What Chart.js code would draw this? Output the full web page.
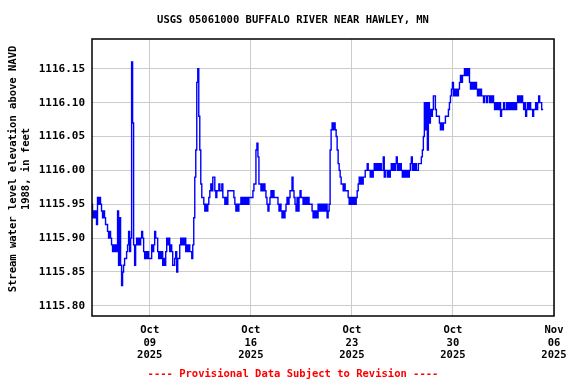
<!DOCTYPE html>
<html>
<head>
<meta charset="utf-8">
<script src="https://cdn.jsdelivr.net/npm/chart.js@4/dist/chart.umd.min.js"></script>
<style>
html,body{margin:0;padding:0;background:#fff;}
</style>
</head>
<body>
<canvas id="gageChart" width="576" height="384"></canvas>
<script>

const stationTitle =
"USGS 05061000 BUFFALO RIVER NEAR HAWLEY, MN";

const yAxisTitle = [
"Stream water level elevation above NAVD",
"1988, in feet"
];

const footerText =
"---- Provisional Data Subject to Revision ----";

// readings every 100 minutes, starting Oct 5 2025 00:00 (x = day of October)
const startDay = 5;
const stepMinutes = 100;

const stage = [
1115.95,1115.93,1115.94,1115.93,1115.94,1115.92,1115.96,1115.95,1115.96,1115.95,
1115.94,1115.93,1115.94,1115.93,1115.92,1115.92,1115.91,1115.90,1115.91,1115.90,
1115.89,1115.88,1115.89,1115.88,1115.89,1115.88,1115.94,1115.86,1115.93,1115.86,
1115.83,1115.85,1115.86,1115.87,1115.87,1115.88,1115.89,1115.91,1115.88,1115.90,
1116.16,1116.07,1115.89,1115.86,1115.89,1115.90,1115.89,1115.90,1115.89,1115.90,
1115.91,1115.90,1115.88,1115.87,1115.88,1115.87,1115.88,1115.87,1115.87,1115.87,
1115.89,1115.88,1115.89,1115.91,1115.90,1115.90,1115.88,1115.87,1115.88,1115.87,
1115.88,1115.86,1115.87,1115.86,1115.88,1115.90,1115.89,1115.90,1115.88,1115.89,
1115.88,1115.86,1115.86,1115.87,1115.88,1115.85,1115.87,1115.87,1115.89,1115.90,
1115.89,1115.90,1115.89,1115.90,1115.88,1115.89,1115.88,1115.89,1115.88,1115.88,
1115.87,1115.89,1115.93,1115.99,1116.03,1116.13,1116.15,1116.08,1116.03,1115.98,
1115.96,1115.96,1115.95,1115.94,1115.95,1115.94,1115.95,1115.96,1115.97,1115.98,
1115.97,1115.99,1115.99,1115.97,1115.96,1115.97,1115.97,1115.98,1115.97,1115.97,
1115.98,1115.96,1115.96,1115.95,1115.96,1115.95,1115.97,1115.97,1115.97,1115.97,
1115.97,1115.97,1115.96,1115.95,1115.94,1115.95,1115.94,1115.95,1115.95,1115.96,
1115.95,1115.96,1115.95,1115.96,1115.95,1115.96,1115.95,1115.96,1115.96,1115.96,
1115.96,1115.97,1115.98,1115.98,1116.03,1116.04,1116.02,1115.98,1115.98,1115.97,
1115.98,1115.97,1115.98,1115.97,1115.96,1115.95,1115.94,1115.95,1115.96,1115.97,
1115.96,1115.97,1115.96,1115.96,1115.96,1115.96,1115.95,1115.94,1115.95,1115.94,
1115.93,1115.94,1115.93,1115.94,1115.95,1115.96,1115.95,1115.96,1115.97,1115.97,
1115.99,1115.97,1115.96,1115.95,1115.94,1115.96,1115.94,1115.96,1115.97,1115.96,
1115.96,1115.95,1115.96,1115.95,1115.96,1115.95,1115.96,1115.95,1115.95,1115.95,
1115.94,1115.93,1115.94,1115.93,1115.94,1115.93,1115.95,1115.94,1115.95,1115.94,
1115.95,1115.94,1115.95,1115.94,1115.95,1115.93,1115.94,1115.95,1116.03,1116.06,
1116.07,1116.06,1116.07,1116.06,1116.05,1116.03,1116.01,1116.00,1115.99,1115.98,
1115.98,1115.97,1115.98,1115.97,1115.97,1115.97,1115.96,1115.95,1115.96,1115.95,
1115.96,1115.95,1115.96,1115.95,1115.96,1115.97,1115.98,1115.99,1115.98,1115.99,
1115.98,1115.99,1115.99,1116.00,1116.00,1116.01,1116.00,1116.00,1115.99,1116.00,
1115.99,1116.00,1116.01,1116.00,1116.01,1116.00,1116.01,1116.00,1116.01,1116.00,
1116.00,1116.02,1115.99,1116.00,1116.00,1115.99,1116.00,1115.99,1116.00,1116.01,
1116.00,1116.01,1116.00,1116.01,1116.02,1116.00,1116.01,1116.00,1116.01,1116.00,
1115.99,1116.00,1115.99,1116.00,1115.99,1116.00,1115.99,1116.00,1116.01,1116.02,
1116.00,1116.01,1116.00,1116.01,1116.00,1116.00,1116.01,1116.01,1116.01,1116.02,
1116.03,1116.05,1116.10,1116.06,1116.10,1116.03,1116.10,1116.07,1116.09,1116.08,
1116.09,1116.11,1116.11,1116.09,1116.08,1116.08,1116.08,1116.07,1116.06,1116.07,
1116.06,1116.07,1116.07,1116.08,1116.08,1116.08,1116.09,1116.10,1116.11,1116.12,
1116.13,1116.11,1116.12,1116.11,1116.12,1116.11,1116.12,1116.13,1116.14,1116.13,
1116.14,1116.14,1116.15,1116.14,1116.15,1116.14,1116.15,1116.13,1116.12,1116.13,
1116.12,1116.13,1116.12,1116.13,1116.12,1116.11,1116.12,1116.11,1116.12,1116.11,
1116.11,1116.10,1116.11,1116.11,1116.10,1116.11,1116.11,1116.10,1116.11,1116.10,
1116.11,1116.10,1116.09,1116.10,1116.09,1116.10,1116.09,1116.10,1116.08,1116.09,
1116.09,1116.10,1116.09,1116.09,1116.10,1116.09,1116.10,1116.09,1116.10,1116.09,
1116.10,1116.09,1116.10,1116.09,1116.10,1116.11,1116.10,1116.11,1116.10,1116.11,
1116.10,1116.09,1116.10,1116.08,1116.09,1116.10,1116.09,1116.10,1116.09,1116.09,
1116.08,1116.09,1116.09,1116.10,1116.09,1116.10,1116.11,1116.10,1116.10,1116.09,
1116.09
];

const xTickDays = [9,16,23,30,37];

const xTickLabels = [
["Oct","09","2025"],
["Oct","16","2025"],
["Oct","23","2025"],
["Oct","30","2025"],
["Nov","06","2025"]
];

const yTicks = [1115.80,1115.85,1115.90,1115.95,1116.00,1116.05,1116.10,1116.15];

const xMin = 5;
const xMax = 37;
const yMin = 1115.785;
const yMax = 1116.194;

const monoFont = "'DejaVu Sans Mono', 'Liberation Mono', monospace";

const points =
stage.map((v,i)=>({
x:startDay + i*stepMinutes/1440,
y:v
}));

const textPlugin = {

id:"usgsText",

afterDraw(chart){

const ctx = chart.ctx;
const area = chart.chartArea;

ctx.save();

ctx.strokeStyle = "#000";
ctx.lineWidth = 1.5;
ctx.strokeRect(area.left, area.top, area.right-area.left, area.bottom-area.top);

ctx.fillStyle = "#000";
ctx.font = "bold 10.5px " + monoFont;
ctx.textAlign = "center";
ctx.textBaseline = "middle";
ctx.fillText(stationTitle, 293, 20);

ctx.save();
ctx.translate(13, 169);
ctx.rotate(-Math.PI/2);
ctx.fillText(yAxisTitle[0], 0, 0);
ctx.restore();

ctx.save();
ctx.translate(26, 169);
ctx.rotate(-Math.PI/2);
ctx.fillText(yAxisTitle[1], 0, 0);
ctx.restore();

ctx.fillStyle = "#ff0000";
ctx.fillText(footerText, 293, 374);

ctx.restore();

}

};

new Chart(

document.getElementById("gageChart"),

{

type:"line",

data:{
datasets:[{
data:points,
borderColor:"#0000ff",
borderWidth:1.4,
pointRadius:0,
stepped:"middle",
fill:false
}]
},

options:{

responsive:false,
animation:false,
devicePixelRatio:1,

layout:{
padding:{top:39,right:22,left:0,bottom:0}
},

plugins:{
legend:{display:false},
tooltip:{enabled:false},
title:{display:false}
},

scales:{

x:{
type:"linear",
min:xMin,
max:xMax,
afterBuildTicks:s=>{
s.ticks = xTickDays.map(v=>({value:v}));
},
afterFit:s=>{
s.height = 68;
},
grid:{color:"#cccccc",lineWidth:1,drawTicks:false},
border:{display:false},
ticks:{
padding:8,
maxRotation:0,
autoSkip:false,
color:"#000",
font:{family:monoFont,size:10.5,weight:"bold",lineHeight:1.21},
callback:(v,i)=>xTickLabels[i]
}
},

y:{
type:"linear",
min:yMin,
max:yMax,
afterBuildTicks:s=>{
s.ticks = yTicks.map(v=>({value:v}));
},
afterFit:s=>{
s.width = 92;
},
grid:{color:"#cccccc",lineWidth:1,drawTicks:false},
border:{display:false},
ticks:{
padding:7,
autoSkip:false,
color:"#000",
font:{family:monoFont,size:11,weight:"bold"},
callback:v=>v.toFixed(2)
}
}

}

},

plugins:[textPlugin]

}

);

</script>
</body>
</html>
